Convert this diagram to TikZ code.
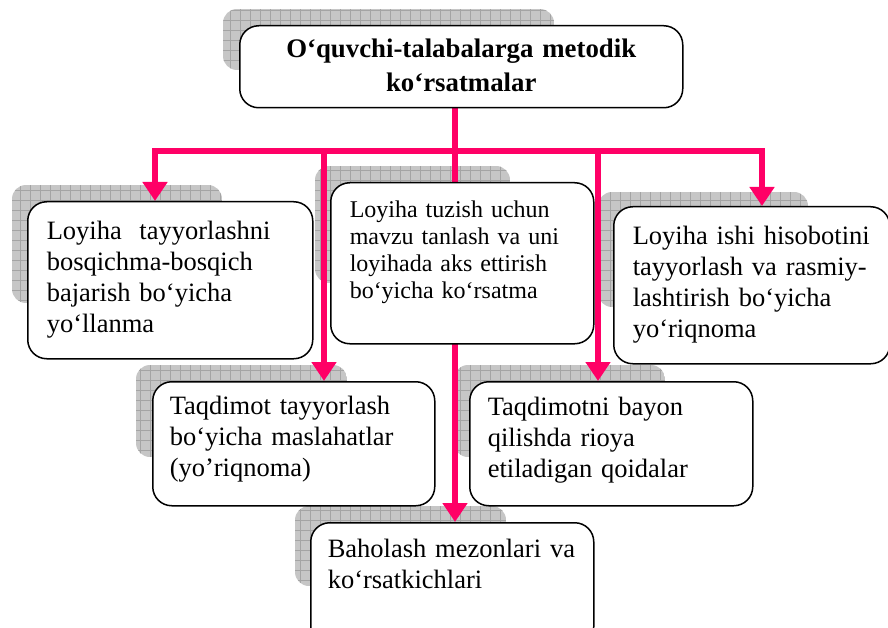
\documentclass[tikz,border=0pt]{standalone}
\usepackage{fontspec}
\setmainfont{Liberation Serif}
\usetikzlibrary{arrows.meta,backgrounds}
\definecolor{linkpink}{HTML}{FF0066}
\definecolor{padgray}{HTML}{C6C6C6}
\definecolor{padline}{HTML}{A4A4A4}
\tikzstyle{infobox}=[draw=black,fill=white,line width=1.5pt,rounded corners=19pt,
                     anchor=north west,align=left,inner xsep=19pt,inner ysep=0pt,
                     font=\fontsize{26.5}{31}\selectfont]
\tikzstyle{pinklink}=[draw=linkpink,line width=6pt]
\tikzstyle{pinkarrow}=[pinklink,-{Triangle[width=24pt,length=19pt]}]

\begin{document}
\begin{tikzpicture}[x=1pt,y=-1pt]
    \newcommand{\rr}{14pt}
    \useasboundingbox (0,0) rectangle (888,628);
    \node (metod) at (239,25) [infobox,align=center,text width=405pt,
        text height=32pt,text depth=50pt,font=\fontsize{26.8}{34}\selectfont\bfseries]
        {O‘quvchi-talabalarga metodik\\ko‘rsatmalar};
    \node (loyiha) at (27,201) [infobox,text width=247pt,text height=38pt,text depth=119pt]
        {Loyiha\ \ tayyorlashni\\bosqichma-bosqich\\bajarish bo‘yicha\\yo‘llanma};
    \node (mavzu) at (330,182) [infobox,text width=225pt,text height=35pt,text depth=126pt,
        font=\fontsize{24}{27}\selectfont]
        {Loyiha tuzish uchun\\mavzu tanlash va uni\\loyihada aks ettirish\\bo‘yicha ko‘rsatma};
    \node (hisobot) at (613,206) [infobox,text width=238pt,text height=38pt,text depth=119pt]
        {Loyiha ishi hisobotini\\tayyorlash va rasmiy-\\lashtirish bo‘yicha\\yo‘riqnoma};
    \node (taqdimot) at (152,381) [infobox,inner xsep=17pt,text width=248pt,
        text height=33pt,text depth=91pt]
        {Taqdimot tayyorlash\\bo‘yicha maslahatlar\\(yo’riqnoma)};
    \node (bayon) at (469,381) [infobox,inner xsep=18pt,text width=247pt,
        text height=34pt,text depth=90pt]
        {Taqdimotni bayon\\qilishda rioya\\etiladigan qoidalar};
    \node (baho) at (310,522) [infobox,inner xsep=17pt,text width=249pt,
        text height=35pt,text depth=88pt]
        {Baholash mezonlari va\\ko‘rsatkichlari};
    \begin{scope}[on background layer]
      \foreach \xa/\ya/\xb/\yb in {223/9/554/70, 12/185/222/303, 315/166/510/283,
          598/192/808/307, 136/365/347/457, 454/365/665/457, 295/506/506/586} {
        \begin{scope}
          \clip[rounded corners=\rr] (\xa,\ya) rectangle (\xb,\yb);
          \fill[padgray] (\xa,\ya) rectangle (\xb,\yb);
          \draw[padline,line width=0.5pt,step=10pt] (\xa,\ya) grid (\xb,\yb);
        \end{scope}
      }
      \coordinate (hub) at (455,151);
      \coordinate (barL) at (155,151);
      \coordinate (barR) at (762,151);
      \coordinate (jD) at (324,151);
      \coordinate (jE) at (598,151);
      \draw[pinklink] (metod.south -| hub) -- (hub);
      \draw[pinklink,{Triangle[width=24pt,length=19pt]}-{Triangle[width=24pt,length=19pt]}]
          (loyiha.north -| barL) -- (barL) -- (barR) -- (hisobot.north -| barR);
      \draw[pinkarrow] (jD) -- (jD |- taqdimot.north);
      \draw[pinkarrow] (jE) -- (jE |- bayon.north);
      \draw[pinkarrow] (hub) -- (hub |- baho.north);
    \end{scope}
\end{tikzpicture}
\end{document}
